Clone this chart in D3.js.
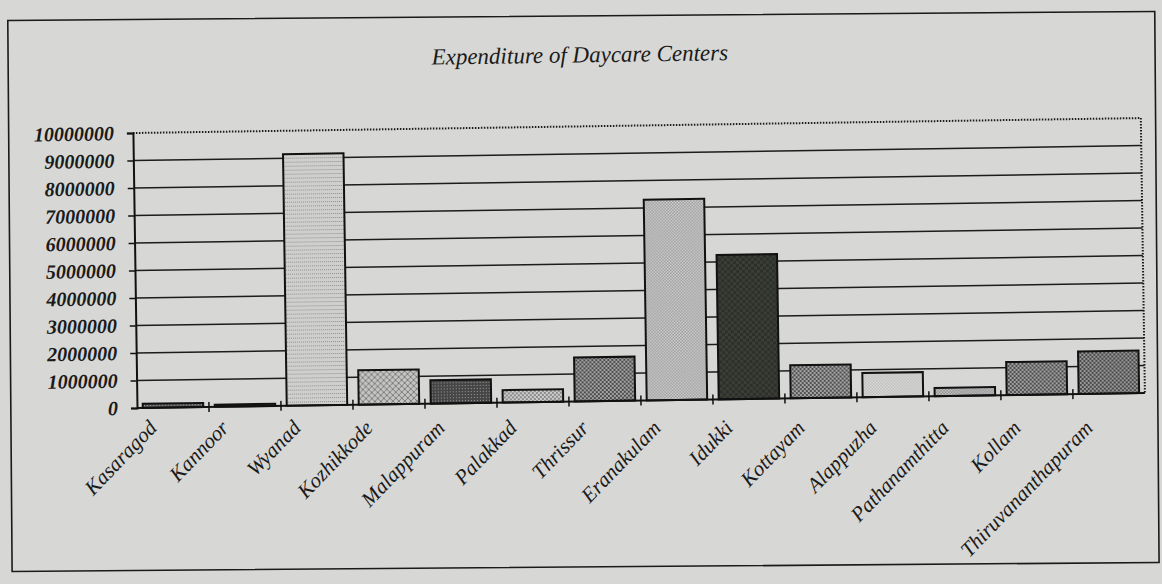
<!DOCTYPE html>
<html>
<head>
<meta charset="utf-8">
<script src="https://cdn.jsdelivr.net/npm/d3@7"></script>
<style>
  html, body { margin: 0; padding: 0; background: #d7d7d5; }
  svg { display: block; }
</style>
</head>
<body>
<svg id="chart" width="1162" height="584"></svg>
<script>
// District-wise expenditure of daycare centers (Rs.)
const districts = [
  "Kasaragod", "Kannoor", "Wyanad", "Kozhikkode", "Malappuram", "Palakkad",
  "Thrissur", "Eranakulam", "Idukki", "Kottayam", "Alappuzha",
  "Pathanamthitta", "Kollam", "Thiruvananthapuram"
];
const expenditure = [
  150000, 80000, 9150000, 1250000, 850000, 450000,
  1600000, 7300000, 5250000, 1200000, 880000,
  300000, 1200000, 1550000
];
const yTicks = [0, 1000000, 2000000, 3000000, 4000000, 5000000,
  6000000, 7000000, 8000000, 9000000, 10000000];
const chartTitle = "Expenditure of Daycare Centers";

const svg = d3.select("#chart");
const TILT = -0.85;

// fill patterns for the bars, one per district
const patternSpecs = [
  { bg: "#5a5a5a", fg: "#a0a0a0", kind: "dots", s: 3 },
  { bg: "#474747", fg: "#8c8c8c", kind: "dots", s: 3 },
  { bg: "#cfcfcd", fg: "#8e8e8e", kind: "grid", s: 4 },
  { bg: "#c4c4c2", fg: "#7d7d7d", kind: "cross", s: 6 },
  { bg: "#464646", fg: "#9a9a9a", kind: "dots", s: 3 },
  { bg: "#8a8a8a", fg: "#cfcfcf", kind: "check", s: 4 },
  { bg: "#4c4c4c", fg: "#a4a4a4", kind: "check", s: 4 },
  { bg: "#9a9a9a", fg: "#d2d2d2", kind: "check", s: 3 },
  { bg: "#2d2f2a", fg: "#3b3d37", kind: "check", s: 6 },
  { bg: "#505050", fg: "#a6a6a6", kind: "check", s: 4 },
  { bg: "#b8b8b6", fg: "#e0e0de", kind: "check", s: 3 },
  { bg: "#8a8a8a", fg: "#cacaca", kind: "check", s: 3 },
  { bg: "#4e4e4e", fg: "#a0a0a0", kind: "check", s: 4 },
  { bg: "#484848", fg: "#989898", kind: "check", s: 4 }
];

const defs = svg.append("defs");
patternSpecs.forEach((p, i) => {
  const pat = defs.append("pattern")
    .attr("id", "fill" + i)
    .attr("patternUnits", "userSpaceOnUse")
    .attr("width", p.s).attr("height", p.s);
  pat.append("rect").attr("width", p.s).attr("height", p.s).attr("fill", p.bg);
  if (p.kind === "dots") {
    pat.append("rect").attr("width", 1).attr("height", 1).attr("fill", p.fg);
  } else if (p.kind === "grid") {
    pat.append("rect").attr("width", 1).attr("height", 1).attr("fill", p.fg);
    pat.append("rect").attr("x", 2).attr("width", 1).attr("height", 1).attr("fill", p.fg);
  } else if (p.kind === "cross") {
    pat.append("path").attr("d", `M0,0L${p.s},${p.s}M${p.s},0L0,${p.s}`)
      .attr("stroke", p.fg).attr("stroke-width", 1);
  } else {
    const h = p.s / 2;
    pat.append("rect").attr("width", h).attr("height", h).attr("fill", p.fg);
    pat.append("rect").attr("x", h).attr("y", h).attr("width", h).attr("height", h).attr("fill", p.fg);
  }
});

// outer frame of the sheet
svg.append("g").attr("transform", "rotate(-0.45 580 300)")
  .append("rect")
  .attr("x", 10).attr("y", 16).attr("width", 1147).attr("height", 551)
  .attr("fill", "none").attr("stroke", "#1a1a1a").attr("stroke-width", 1.6);

// chart body sits at a slight tilt
const root = svg.append("g").attr("transform", `rotate(${TILT} 137 408)`);

const margin = { left: 137, right: 1145, top: 133, bottom: 408 };

const x = d3.scaleBand()
  .domain(districts)
  .range([margin.left, margin.right])
  .paddingInner(0.16)
  .paddingOuter(0.08);

const y = d3.scaleLinear()
  .domain([0, 10000000])
  .range([margin.bottom, margin.top]);

// title
root.append("text")
  .attr("x", 585).attr("y", 69)
  .attr("text-anchor", "middle")
  .attr("font-family", "Liberation Serif, serif")
  .attr("font-style", "italic")
  .attr("font-size", 23)
  .attr("fill", "#1a1a1a")
  .text(chartTitle);

// horizontal gridlines (top one dotted, as the plot border)
root.append("g")
  .selectAll("line")
  .data(yTicks.filter(t => t > 0))
  .join("line")
  .attr("x1", margin.left).attr("x2", margin.right)
  .attr("y1", d => y(d)).attr("y2", d => y(d))
  .attr("stroke", "#1c1c1c")
  .attr("stroke-width", d => d === 10000000 ? 2 : 1.5)
  .attr("stroke-dasharray", d => d === 10000000 ? "1.5,1.5" : null);

// right plot border, dotted
root.append("line")
  .attr("x1", margin.right).attr("x2", margin.right)
  .attr("y1", margin.top).attr("y2", margin.bottom)
  .attr("stroke", "#1c1c1c").attr("stroke-width", 2)
  .attr("stroke-dasharray", "1.5,1.5");

// bars
root.append("g")
  .selectAll("rect")
  .data(districts)
  .join("rect")
  .attr("x", d => x(d))
  .attr("width", x.bandwidth())
  .attr("y", (d, i) => y(expenditure[i]))
  .attr("height", (d, i) => y(0) - y(expenditure[i]))
  .attr("fill", (d, i) => `url(#fill${i})`)
  .attr("stroke", "#111")
  .attr("stroke-width", 2);

// y axis
const yAxis = root.append("g")
  .attr("transform", `translate(${margin.left},0)`)
  .call(d3.axisLeft(y).tickValues(yTicks).tickFormat(d3.format("d")).tickSize(6).tickPadding(13));
yAxis.select(".domain").attr("stroke", "#111").attr("stroke-width", 2);
yAxis.selectAll(".tick line").attr("stroke", "#111").attr("stroke-width", 1.5);
yAxis.selectAll(".tick text")
  .attr("font-family", "Liberation Serif, serif")
  .attr("font-style", "italic")
  .attr("font-weight", "bold")
  .attr("font-size", 20)
  .attr("fill", "#1a1a1a");

// x axis with crossing ticks between categories
const xAxisG = root.append("g");
xAxisG.append("line")
  .attr("x1", margin.left).attr("x2", margin.right)
  .attr("y1", y(0)).attr("y2", y(0))
  .attr("stroke", "#111").attr("stroke-width", 2);
const step = x.step();
xAxisG.selectAll("line.tk")
  .data(districts.slice(1))
  .join("line")
  .attr("class", "tk")
  .attr("x1", d => x(d) - step * x.paddingInner() / 2)
  .attr("x2", d => x(d) - step * x.paddingInner() / 2)
  .attr("y1", y(0) - 5).attr("y2", y(0) + 5)
  .attr("stroke", "#111").attr("stroke-width", 1.5);

// rotated district labels, laid out level along the page
svg.append("g")
  .selectAll("text")
  .data(districts)
  .join("text")
  .attr("transform", d => `translate(${x(d) + x.bandwidth() / 2 - 15},${y(0) + 21}) rotate(-46)`)
  .attr("text-anchor", "end")
  .attr("font-family", "Liberation Serif, serif")
  .attr("font-style", "italic")
  .attr("font-size", 21)
  .attr("fill", "#1a1a1a")
  .text(d => d);
</script>
</body>
</html>
